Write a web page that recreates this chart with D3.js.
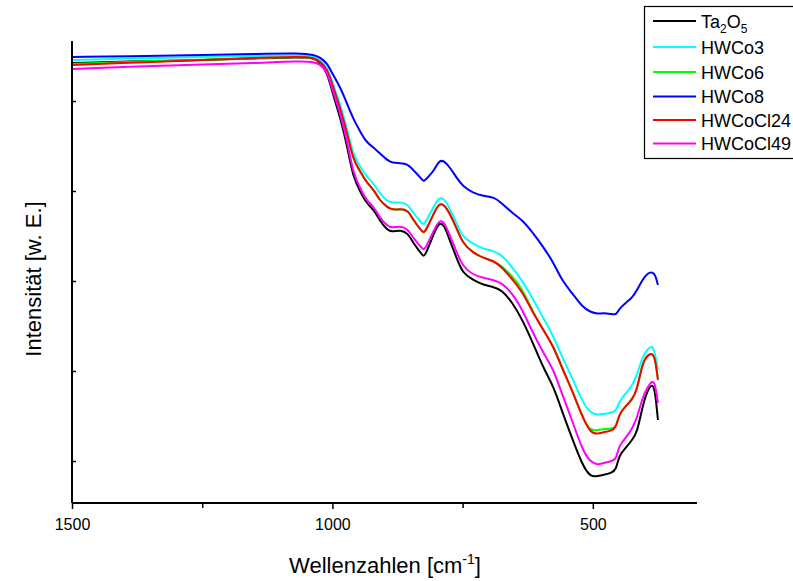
<!DOCTYPE html>
<html>
<head>
<meta charset="utf-8">
<script src="https://cdn.jsdelivr.net/npm/d3@7"></script>
<style>
  html, body { margin: 0; padding: 0; background: #fff; }
  svg { display: block; font-family: Arial, "Liberation Sans", Helvetica, sans-serif; }
</style>
</head>
<body>
<svg id="chart" width="793" height="581"></svg>
<script>
// Wavenumbers (cm^-1), shared by all series
const wavenumbers = [1500,1350,1250,1150,1060,1035,1025,1010,1000,985,970,960,945,935,920,910,895,885,870,855,845,830,825,820,805,795,785,775,760,750,730,710,690,675,655,635,615,595,575,560,540,520,505,490,480,465,455,450,435,425,415,405,395,385,380,375];

// Intensities (arbitrary units)
const ta2o5 = [4.40,4.42,4.43,4.445,4.46,4.45,4.41,4.31,4.10,3.86,3.53,3.25,3.10,3.00,2.93,2.83,2.73,2.71,2.73,2.70,2.60,2.50,2.46,2.50,2.70,2.81,2.78,2.63,2.43,2.30,2.23,2.18,2.16,2.13,2.01,1.83,1.60,1.35,1.16,0.93,0.65,0.38,0.26,0.27,0.28,0.30,0.33,0.48,0.56,0.63,0.70,0.96,1.13,1.20,1.10,0.83];
const hwco3 = [4.43,4.45,4.46,4.47,4.48,4.465,4.44,4.36,4.21,3.99,3.71,3.48,3.35,3.27,3.19,3.10,3.02,3.00,3.01,2.99,2.90,2.81,2.78,2.82,2.97,3.06,3.04,2.95,2.78,2.66,2.59,2.54,2.52,2.48,2.36,2.22,2.04,1.85,1.66,1.47,1.26,1.01,0.90,0.88,0.89,0.90,0.92,1.01,1.11,1.17,1.28,1.46,1.54,1.58,1.48,1.33];
const hwco6 = [4.39,4.42,4.43,4.45,4.46,4.45,4.42,4.34,4.18,3.95,3.66,3.43,3.30,3.21,3.13,3.03,2.96,2.93,2.94,2.93,2.83,2.73,2.70,2.73,2.90,3.00,2.98,2.90,2.73,2.60,2.50,2.45,2.42,2.37,2.27,2.14,1.91,1.73,1.56,1.36,1.13,0.86,0.72,0.73,0.74,0.74,0.76,0.89,0.98,1.03,1.13,1.40,1.48,1.50,1.43,1.24];
const hwco8 = [4.46,4.47,4.48,4.49,4.50,4.48,4.46,4.40,4.29,4.16,3.97,3.84,3.70,3.61,3.55,3.50,3.43,3.40,3.40,3.39,3.33,3.25,3.21,3.24,3.32,3.43,3.42,3.36,3.24,3.17,3.10,3.07,3.06,3.00,2.90,2.83,2.70,2.56,2.40,2.23,2.10,1.96,1.91,1.89,1.90,1.89,1.88,1.94,2.01,2.05,2.13,2.23,2.30,2.31,2.28,2.18];
const hwcocl24 = [4.38,4.41,4.43,4.45,4.465,4.45,4.42,4.34,4.18,3.95,3.66,3.43,3.30,3.21,3.13,3.03,2.96,2.93,2.94,2.93,2.83,2.73,2.70,2.73,2.90,3.00,2.98,2.90,2.73,2.60,2.50,2.45,2.42,2.36,2.24,2.11,1.90,1.73,1.56,1.36,1.13,0.86,0.70,0.69,0.71,0.72,0.75,0.89,0.98,1.03,1.13,1.40,1.48,1.50,1.43,1.23];
const hwcocl49 = [4.34,4.37,4.385,4.40,4.42,4.41,4.39,4.32,4.13,3.90,3.58,3.29,3.13,3.03,2.96,2.86,2.77,2.75,2.77,2.74,2.65,2.56,2.53,2.56,2.73,2.83,2.81,2.68,2.49,2.37,2.28,2.25,2.23,2.20,2.10,1.93,1.70,1.50,1.33,1.10,0.83,0.53,0.41,0.38,0.40,0.42,0.43,0.58,0.66,0.74,0.85,1.05,1.16,1.23,1.18,1.00];

const seriesNames = ["Ta2O5","HWCo3","HWCo6","HWCo8","HWCoCl24","HWCoCl49"];
const seriesColors = ["#000000","#00ffff","#00ff00","#0000ff","#ff0000","#ff00ff"];
const seriesValues = [ta2o5, hwco3, hwco6, hwco8, hwcocl24, hwcocl49];

const xMajorTicks = [1500, 1000, 500];
const xMinorTicks = [1250, 750];
const yTicks = [0.42, 1.32, 2.22, 3.12, 4.02];

const svg = d3.select("#chart");
const pLeft = 72, pRight = 697, pTop = 41, pBottom = 503;

const x = d3.scaleLinear().domain([1500, 300]).range([pLeft, pRight]);
const y = d3.scaleLinear().domain([0, 4.62]).range([pBottom, pTop]);

// Curves
const line = d3.line()
  .x(d => x(d[0]))
  .y(d => y(d[1]))
  .curve(d3.curveBasis);

seriesValues.forEach((vals, i) => {
  const pts = wavenumbers.map((w, j) => [w, vals[j]]);
  svg.append("path")
    .datum(pts)
    .attr("fill", "none")
    .attr("stroke", seriesColors[i])
    .attr("stroke-width", 2)
    .attr("stroke-linejoin", "round")
    .attr("d", line);
});

// X axis
const xAxis = svg.append("g").attr("transform", `translate(0,${pBottom})`)
  .call(d3.axisBottom(x).tickValues(xMajorTicks).tickFormat(d3.format("d")).tickSizeInner(6).tickSizeOuter(0).tickPadding(10));
xAxis.selectAll("text").attr("font-size", 16).attr("fill", "#000").attr("font-family", "Arial, 'Liberation Sans', sans-serif");
xAxis.selectAll("line").attr("stroke", "#000").attr("stroke-width", 1.5);
xAxis.select(".domain").attr("stroke", "#000").attr("stroke-width", 2).attr("d", `M${pLeft},0H${pRight}`);

const xMinor = svg.append("g").attr("transform", `translate(0,${pBottom})`)
  .call(d3.axisBottom(x).tickValues(xMinorTicks).tickFormat("").tickSizeInner(5).tickSizeOuter(0));
xMinor.select(".domain").remove();
xMinor.selectAll("line").attr("stroke", "#000").attr("stroke-width", 1.5);

// Y axis (no labels, inward ticks)
const yAxis = svg.append("g").attr("transform", `translate(${pLeft},0)`)
  .call(d3.axisRight(y).tickValues(yTicks).tickFormat("").tickSizeInner(4).tickSizeOuter(0));
yAxis.select(".domain").attr("stroke", "#000").attr("stroke-width", 2).attr("d", `M0,${pTop}V${pBottom}`);
yAxis.selectAll("line").attr("stroke", "#000").attr("stroke-width", 1.5);

// Axis titles
const xt = svg.append("text")
  .attr("x", 385)
  .attr("y", 573)
  .attr("text-anchor", "middle")
  .attr("font-size", 22)
  .attr("fill", "#000");
xt.append("tspan").text("Wellenzahlen [cm");
xt.append("tspan").attr("dy", -9).attr("font-size", 14).text("-1");
xt.append("tspan").attr("dy", 9).text("]");

svg.append("text")
  .attr("transform", `translate(41,279) rotate(-90)`)
  .attr("text-anchor", "middle")
  .attr("font-size", 22)
  .attr("fill", "#000")
  .text("Intensität [w. E.]");

// Legend
const legend = svg.append("g");
legend.append("rect")
  .attr("x", 644.5).attr("y", 6.5).attr("width", 160).attr("height", 152)
  .attr("fill", "#fff").attr("stroke", "#000").attr("stroke-width", 1.2);
const legendY = [21, 47, 72, 96.5, 120, 143.5];
seriesNames.forEach((name, i) => {
  const ly = legendY[i];
  legend.append("line")
    .attr("x1", 653).attr("x2", 696).attr("y1", ly).attr("y2", ly)
    .attr("stroke", seriesColors[i]).attr("stroke-width", 2);
  const t = legend.append("text")
    .attr("x", 701).attr("y", ly + 6.5)
    .attr("font-size", 18).attr("fill", "#000");
  if (name === "Ta2O5") {
    t.append("tspan").text("Ta");
    t.append("tspan").attr("dy", 5).attr("font-size", 12).text("2");
    t.append("tspan").attr("dy", -5).text("O");
    t.append("tspan").attr("dy", 5).attr("font-size", 12).text("5");
  } else {
    t.text(name);
  }
});
</script>
</body>
</html>
